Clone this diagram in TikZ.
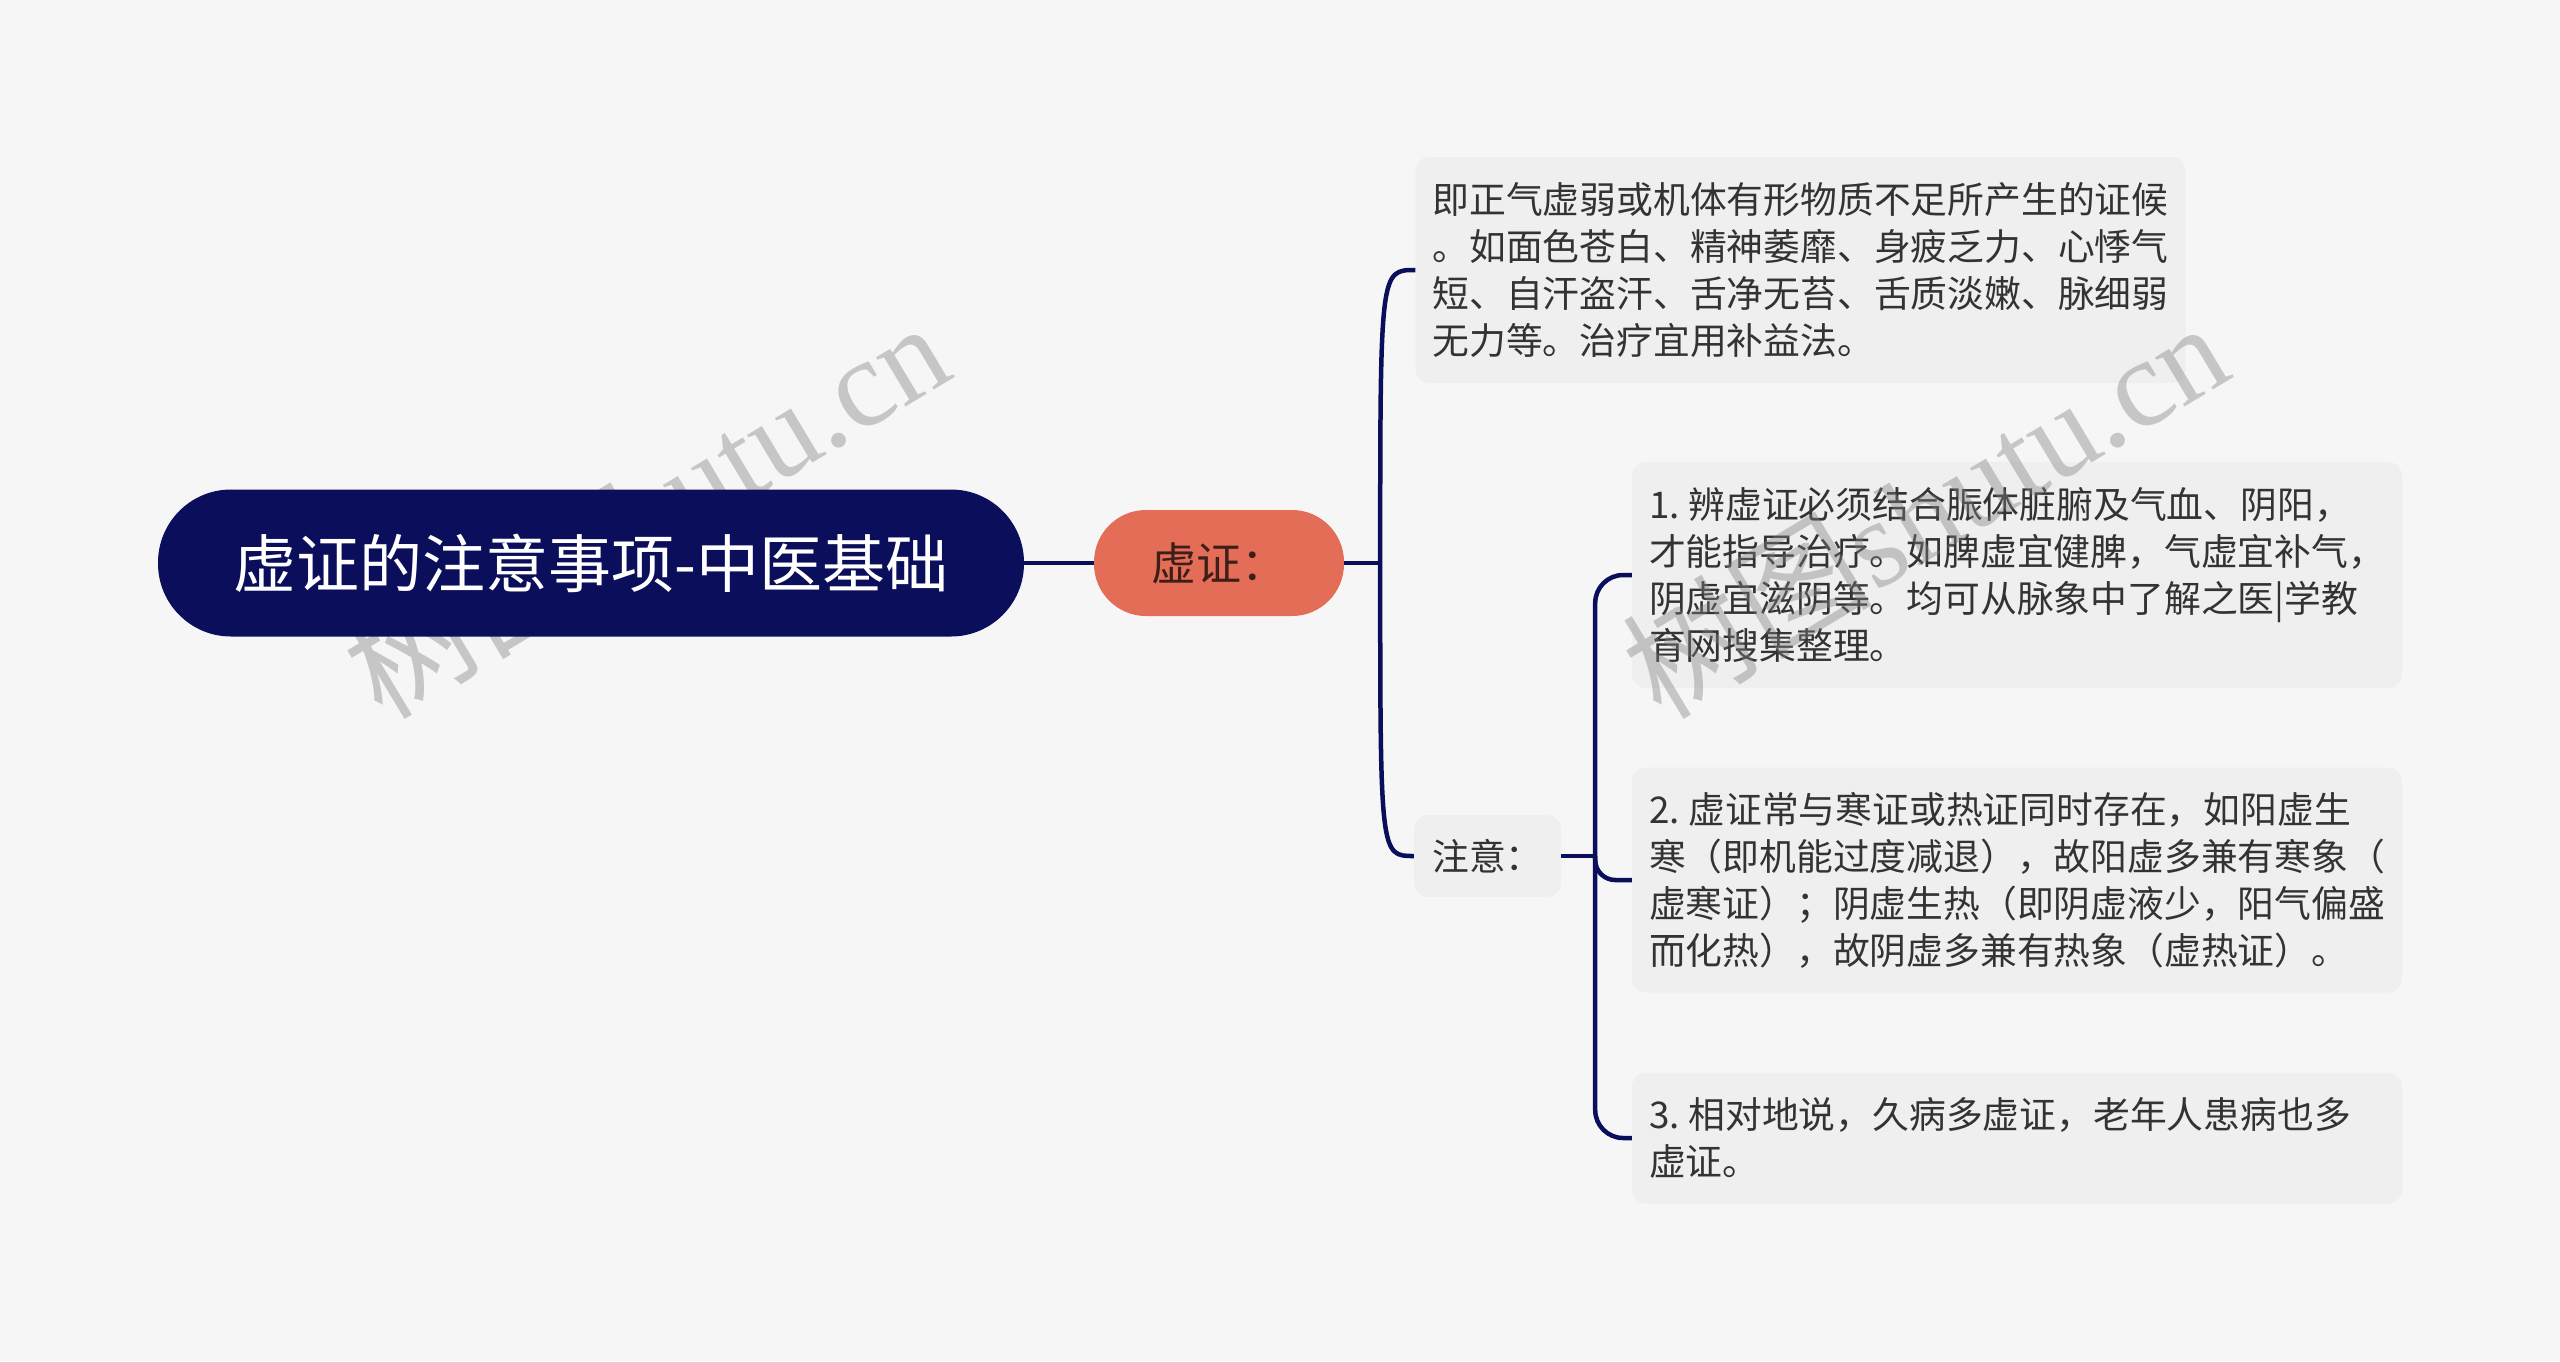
\documentclass[tikz,border=0pt]{standalone}
\usepackage{fontspec}
\setmainfont{Noto Sans CJK SC}
\newfontfamily\wmlatin{Liberation Serif}
\usetikzlibrary{calc}
\definecolor{bg}{HTML}{F6F6F6}
\definecolor{navy}{HTML}{0B0F5B}
\definecolor{coral}{HTML}{E46D57}
\definecolor{leaf}{HTML}{EFEFEF}
\definecolor{txt}{HTML}{333333}
\definecolor{xztxt}{HTML}{3D1F18}
\definecolor{wmgray}{HTML}{808080}
\pgfdeclarelayer{top}
\pgfsetlayers{main,top}
\begin{document}
\begin{tikzpicture}[x=1pt,y=-1pt,
  rootbox/.style={fill=navy, text=white, rounded corners=73pt, minimum width=866pt, minimum height=147pt, inner sep=0pt, font=\fontsize{63}{70}\selectfont},
  xzbox/.style={fill=coral, text=xztxt, rounded corners=52pt, minimum width=250pt, minimum height=106pt, inner sep=0pt, font=\fontsize{45}{52}\selectfont},
  leafbox/.style={fill=leaf, text=txt, rounded corners=14pt, inner xsep=17pt, inner ysep=0pt, font=\fontsize{36.8}{47}\selectfont},
  parabox/.style={leafbox, align=left, text width=736pt},
  conn/.style={draw=navy, line width=4.5pt},
  wm/.style={text=wmgray, opacity=0.4, inner sep=0pt, font=\fontsize{125}{130}\selectfont}
]
\fill[bg] (0,0) rectangle (2560,1361);
\useasboundingbox (0,0) rectangle (2560,1361);

\begin{pgfonlayer}{top}
\node[rootbox] (root) at (591,563) {虚证的注意事项-中医基础};
\end{pgfonlayer}
\node[xzbox] (xz) at (1219,563) {虚证：};

\node[parabox, minimum height=226pt] (n1) at (1800.5,270) {即正气虚弱或机体有形物质不足所产生的证候\\。如面色苍白、精神萎靡、身疲乏力、心悸气\\短、自汗盗汗、舌净无苔、舌质淡嫩、脉细弱\\无力等。治疗宜用补益法。};
\node[leafbox, minimum width=147pt, minimum height=82pt] (zy) at (1487.5,856) {注意：};

\node[parabox, minimum height=226pt] (c1) at (2017,575) {1.\hspace{0.24em}辨虚证必须结合脤体脏腑及气血、阴阳，\\才能指导治疗。如脾虚宜健脾，气虚宜补气，\\阴虚宜滋阴等。均可从脉象中了解之医|学教\\育网搜集整理。};
\node[parabox, minimum height=225pt] (c2) at (2017,880) {2.\hspace{0.24em}虚证常与寒证或热证同时存在，如阳虚生\\寒（即机能过度减退），故阳虚多兼有寒象（\\虚寒证）；阴虚生热（即阴虚液少，阳气偏盛\\而化热），故阴虚多兼有热象（虚热证）。};
\node[parabox, minimum height=131pt] (c3) at (2017,1138) {3.\hspace{0.24em}相对地说，久病多虚证，老年人患病也多\\虚证。};

\draw[conn] (root.east) -- (xz.west);
\coordinate (b1) at ($(xz.east)+(36,0)$);
\draw[conn] (xz.east) -- (b1);
\draw[conn] (b1) .. controls (b1 |- n1.west) and (b1 |- n1.west) .. (n1.west);
\draw[conn] (b1) .. controls (b1 |- zy.west) and (b1 |- zy.west) .. (zy.west);

\coordinate (b2) at ($(zy.east)+(34,0)$);
\draw[conn] (zy.east) -- (b2);
\draw[conn, rounded corners=28pt] (b2) |- (c1.west);
\draw[conn, rounded corners=20pt] (b2) |- (c2.west);
\draw[conn, rounded corners=28pt] (b2) |- (c3.west);

\node[wm, rotate=31] (wm1) at (645,508) {树图{\wmlatin shutu.cn}};
\node[wm, rotate=31] (wm2) at (1924,508) {树图{\wmlatin shutu.cn}};
\end{tikzpicture}
\end{document}
